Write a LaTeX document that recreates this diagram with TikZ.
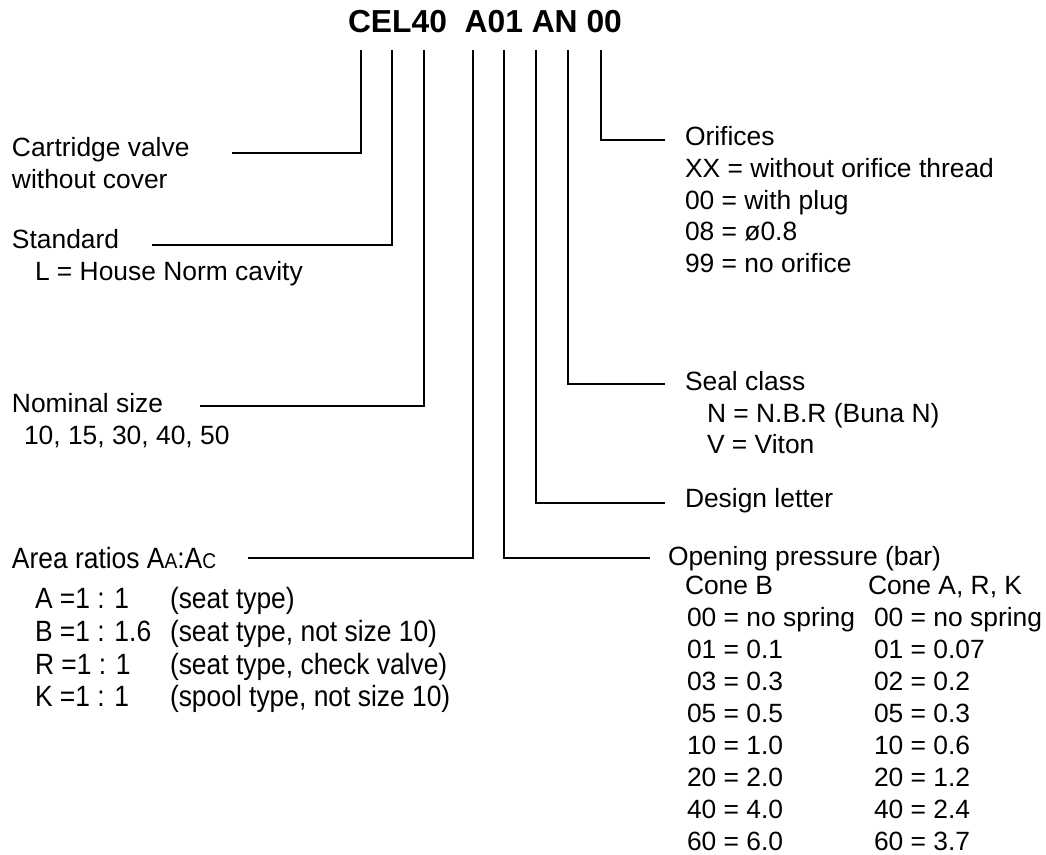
\documentclass[tikz,border=0pt]{standalone}
\usepackage{fontspec}
\setmainfont{Liberation Sans}
\newfontfamily\narrowfont[FakeStretch=0.9]{Liberation Sans}
\begin{document}
\begin{tikzpicture}[x=0.75pt,y=-0.75pt,
  txt/.style={anchor=base west,inner sep=0pt,outer sep=0pt,font=\fontsize{19.8pt}{23.85pt}\selectfont},
  nar/.style={anchor=base west,inner sep=0pt,outer sep=0pt,font=\narrowfont\fontsize{22pt}{26pt}\selectfont},
  ttl/.style={anchor=base west,inner sep=0pt,outer sep=0pt,font=\bfseries\fontsize{23.85pt}{28pt}\selectfont},
  conn/.style={line width=1pt}]
\useasboundingbox (0,0) rectangle (1046,855);
% title
\node[ttl] (title) at (348,33) {CEL40\ \ A01 AN 00};
% connector tops
\foreach \n/\x in {t1/361,t2/392,t3/424,t4/473,t5/504,t6/536,t7/568,t8/601}
  \coordinate (\n) at (\x,50);
% connector free ends
\coordinate (e1) at (232,153);
\coordinate (e2) at (152,245);
\coordinate (e3) at (200,406);
\coordinate (e4) at (248,558);
\coordinate (e5) at (650,558);
\coordinate (e6) at (665,503);
\coordinate (e7) at (665,384);
\coordinate (e8) at (665,140);
\foreach \i in {1,...,8}
  \draw[conn] (t\i) |- (e\i);
% left texts
\node[txt] (cart1) at (12,157) {Cartridge valve};
\node[txt] (cart2) at (12,189) {without cover};
\node[txt] (std1) at (12,249) {Standard};
\node[txt] (std2) at (35,281) {L = House Norm cavity};
\node[txt] (nom1) at (12,413) {Nominal size};
\node[txt] (nom2) at (24,445) {10, 15, 30, 40, 50};
\node[nar] (ar0) at (12,568) {Area ratios A{\fontsize{16pt}{18pt}\selectfont A}:A{\fontsize{16pt}{18pt}\selectfont C}};
\node[nar] (ar1a) at (35,608) {A =1 : 1};
\node[nar] (ar1b) at (170,608) {(seat type)};
\node[nar] (ar2a) at (35,641) {B =1 : 1.6};
\node[nar] (ar2b) at (170,641) {(seat type, not size 10)};
\node[nar] (ar3a) at (35,674) {R =1 : 1};
\node[nar] (ar3b) at (170,674) {(seat type, check valve)};
\node[nar] (ar4a) at (35,706) {K =1 : 1};
\node[nar] (ar4b) at (170,706) {(spool type, not size 10)};
% right texts
\node[txt] (or0) at (685,146) {Orifices};
\node[txt] (or1) at (685,178) {XX = without orifice thread};
\node[txt] (or2) at (685,210) {00 = with plug};
\node[txt] (or3) at (685,241) {08 = ø0.8};
\node[txt] (or4) at (685,273) {99 = no orifice};
\node[txt] (se0) at (685,391) {Seal class};
\node[txt] (se1) at (707,423) {N = N.B.R (Buna N)};
\node[txt] (se2) at (707,454) {V = Viton};
\node[txt] (de0) at (685,508) {Design letter};
\node[txt] (op0) at (668,565) {Opening pressure (bar)};
\node[txt] (cb) at (685,594) {Cone B};
\node[txt] (ca) at (868,594) {Cone A, R, K};
\foreach \a/\b/\y [count=\k] in {00 = no spring/00 = no spring/626,01 = 0.1/01 = 0.07/658,03 = 0.3/02 = 0.2/690,05 = 0.5/05 = 0.3/722,10 = 1.0/10 = 0.6/754,20 = 2.0/20 = 1.2/786,40 = 4.0/40 = 2.4/818,60 = 6.0/60 = 3.7/850}{
  \node[txt] (pb\k) at (687,\y) {\a};
  \node[txt] (pa\k) at (874,\y) {\b};
}
\end{tikzpicture}
\end{document}
